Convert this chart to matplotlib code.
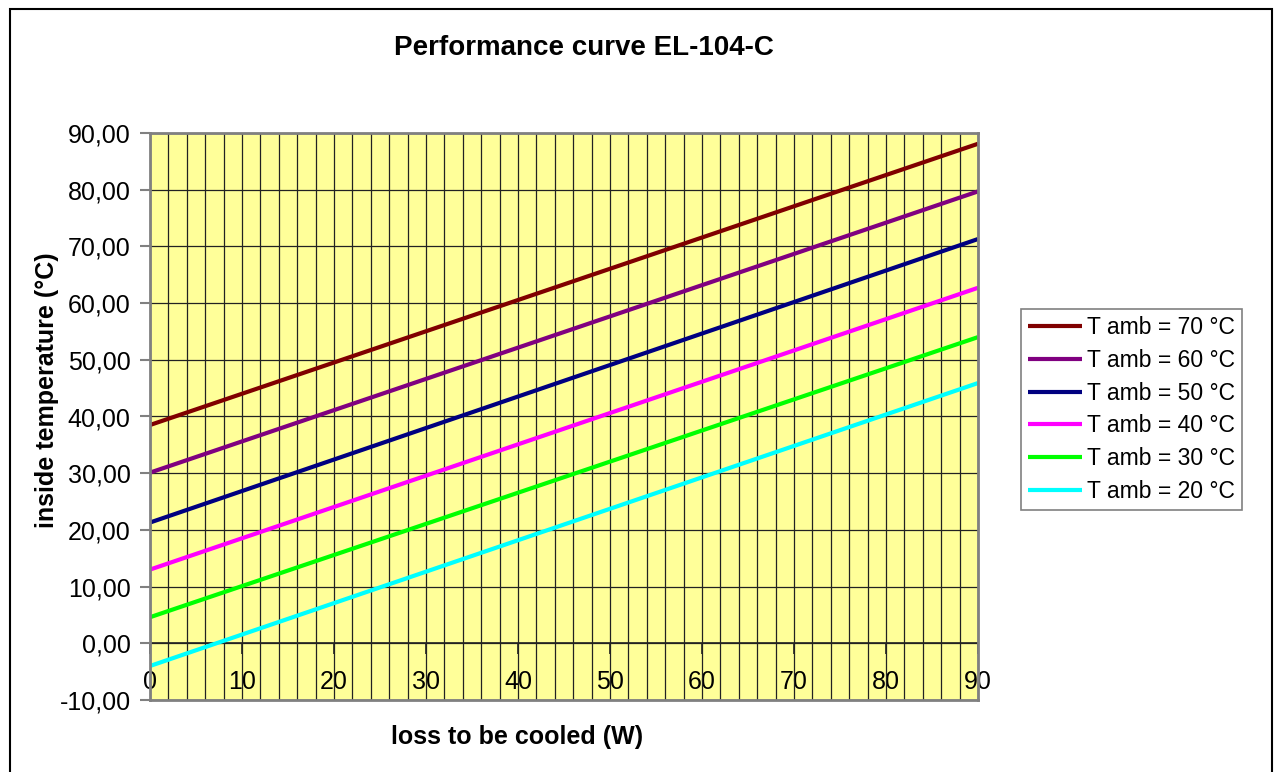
import numpy as np
import matplotlib.pyplot as plt
from matplotlib.patches import Rectangle

plt.rcParams['font.family'] = ['Liberation Sans', 'DejaVu Sans']

# data
loss_w = [0, 90]
t_amb_70 = [38.5, 88.1]
t_amb_60 = [30.1, 79.7]
t_amb_50 = [21.3, 71.3]
t_amb_40 = [13.0, 62.7]
t_amb_30 = [4.6, 54.0]
t_amb_20 = [-4.0, 45.9]
series_labels = ['T amb = 70 °C', 'T amb = 60 °C', 'T amb = 50 °C',
                 'T amb = 40 °C', 'T amb = 30 °C', 'T amb = 20 °C']
series_colors = ['#800000', '#800080', '#000080', '#FF00FF', '#00FF00', '#00FFFF']
x_ticks = [0, 10, 20, 30, 40, 50, 60, 70, 80, 90]
y_ticks = [-10, 0, 10, 20, 30, 40, 50, 60, 70, 80, 90]

W, H = 1274, 772
fig = plt.figure(figsize=(W / 100, H / 100), dpi=100)
fig.patches.append(Rectangle((10 / W, -0.01), (1272 - 10) / W, (H - 9) / H + 0.01,
                             transform=fig.transFigure, fill=False,
                             edgecolor='black', linewidth=1.5))

ax = fig.add_axes([150 / W, 1 - 700 / H, (978 - 150) / W, (700 - 133) / H])
ax.set_facecolor('#FFFF99')

series = [t_amb_70, t_amb_60, t_amb_50, t_amb_40, t_amb_30, t_amb_20]
for vals, lab, col in zip(series, series_labels, series_colors):
    ax.plot(loss_w, vals, color=col, linewidth=3, label=lab, solid_capstyle='butt')

ax.set_xlim(0, 90)
ax.set_ylim(-10, 90)

# vertical gridlines every 2 W, horizontal every 10
ax.set_xticks(np.arange(0, 91, 2))
ax.tick_params(axis='x', length=0, labelbottom=False)
ax.set_yticks(y_ticks)
ax.set_yticklabels([f'{v:.2f}'.replace('.', ',') for v in y_ticks])
ax.tick_params(axis='y', length=7, width=1.5, color='#808080', pad=7, labelsize=18)
ax.grid(True, color='#222222', linewidth=0.9)
ax.set_axisbelow(True)
for s in ax.spines.values():
    s.set_color('#808080')
    s.set_linewidth(2)

# category axis crosses at y = 0
sec = ax.secondary_xaxis(0.1)
sec.set_xticks(x_ticks)
sec.set_xticklabels([str(v) for v in x_ticks])
sec.tick_params(length=8, width=1.2, color='#222222', pad=11, labelsize=18)
sec.spines['bottom'].set_color('#222222')
sec.spines['bottom'].set_linewidth(1.2)

fig.text(584 / W, 1 - 48 / H, 'Performance curve EL-104-C', ha='center', va='center',
         fontsize=20, fontweight='bold')
fig.text(517 / W, 1 - 737 / H, 'loss to be cooled (W)', ha='center', va='center',
         fontsize=18, fontweight='bold')
fig.text(47 / W, 1 - 390 / H, 'inside temperature (°C)', ha='center', va='center',
         rotation=90, fontsize=18, fontweight='bold')

leg = ax.legend(loc='upper left', bbox_to_anchor=(1021 / W, 1 - 309 / H),
                bbox_transform=fig.transFigure, fontsize=16.5, frameon=True,
                fancybox=False, edgecolor='#606060', handlelength=2.36,
                handletextpad=0.22, labelspacing=0.43, borderpad=0.3,
                borderaxespad=0)
leg.get_frame().set_linewidth(1.2)

fig.savefig('out.png', dpi=100)
